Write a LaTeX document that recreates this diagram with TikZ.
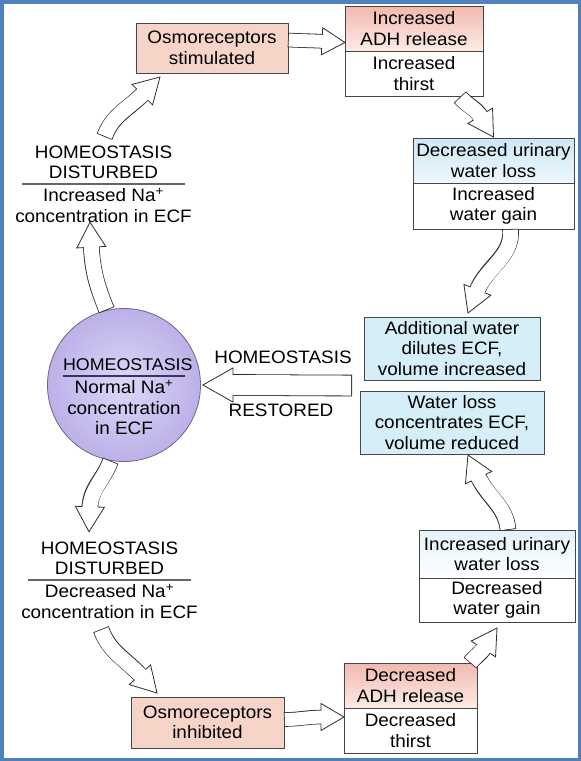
\documentclass[tikz,border=0pt]{standalone}
\usepackage{fontspec}
\setmainfont[FakeStretch=1.05]{Liberation Sans}
\usetikzlibrary{positioning, calc}

\definecolor{salmon}{RGB}{246,212,200}
\definecolor{salmontop}{RGB}{242,184,174}
\definecolor{salmonlow}{RGB}{252,236,230}
\definecolor{skyfill}{RGB}{214,238,248}
\definecolor{skytop}{RGB}{204,232,246}
\definecolor{skylow}{RGB}{238,247,252}
\definecolor{lilac}{RGB}{188,176,232}
\definecolor{lilacin}{RGB}{222,216,248}
\definecolor{ballline}{RGB}{110,100,140}
\definecolor{framecol}{RGB}{79,129,189}
\definecolor{boxline}{RGB}{70,70,70}
\definecolor{rulecol}{RGB}{110,100,95}
\definecolor{ballrule}{RGB}{60,50,90}
\definecolor{arrowline}{RGB}{45,45,45}

\tikzset{
	box/.style={draw=boxline, line width=0.9pt, inner sep=0pt, outer sep=0pt, align=center, minimum height=45pt},
	rose/.style={box, fill=salmon},
	rosebox/.style={box, top color=salmontop, bottom color=salmonlow},
	skybox/.style={box, top color=skytop, bottom color=skylow},
	plainbox/.style={box, fill=white},
	txt/.style={align=center, inner xsep=0pt, inner ysep=5pt, outer sep=0pt},
	sep/.style={draw=rulecol, line width=1.2pt},
	headline/.style={draw=arrowline, line width=0.8pt, fill=white, line join=miter}
}

\newcommand{\hollowarrow}[5][15]{%
	\pgfmathsetmacro{\hl}{#1+9}\pgfmathsetmacro{\hw}{#1/2+7}\pgfmathsetmacro{\ia}{#5+180}
	\coordinate (hb) at ($(#4)+(\ia:\hl)$);
	\draw[line width=#1pt+1.6pt, draw=arrowline] (#2) to[out=#3, in=\ia] (hb);
	\draw[headline, shift={(hb)}, rotate=#5] (-1,-\hw) -- (\hl,0) -- (-1,\hw) -- cycle;
	\draw[line width=#1pt, white, shorten <=0.8pt] (#2) to[out=#3, in=\ia] ($(hb)+(#5:2)$);
}

\begin{document}
\begin{tikzpicture}[x=1pt, y=1pt, font=\fontsize{18}{20.5}\selectfont]
	\useasboundingbox (0,0) rectangle (581,-761);
	\draw[framecol, line width=3.5pt] (1.75,-1.75) rectangle (579.25,-759.25);

	\node[rose, minimum width=152pt, minimum height=50pt] (stim) at (212,-48) {Osmoreceptors\\stimulated};
	\node[rosebox, minimum width=138pt] (adhup) at (414,-28.5) {Increased\\ADH release};
	\node[plainbox, minimum width=138pt, below=0pt of adhup] (adhlo) {Increased\\thirst};
	\node[skybox, minimum width=161pt] (urinup) at (493.5,-160.5) {Decreased urinary\\water loss};
	\node[plainbox, minimum width=161pt, minimum height=46pt, below=0pt of urinup] (urinlo) {Increased\\water gain};

	\node[txt, text width=163pt, anchor=south] (hdup) at (103.5,-184) {HOMEOSTASIS\\DISTURBED};
	\node[txt, inner ysep=4pt, below=0pt of hdup] (naup) {Increased Na\textsuperscript{+}\\concentration in ECF};
	\draw[sep] (hdup.south west) -- (hdup.south east);

	\node[circle, minimum size=153pt, draw=ballline, line width=0.8pt, inner color=lilacin, outer color=lilac] (homeo) at (124,-385) {};
	\node[txt, text width=122pt, anchor=south, font=\fontsize{17}{20.5}\selectfont] (homeotop) at (124,-376) {HOMEOSTASIS};
	\node[txt, inner ysep=4pt, below=0pt of homeotop] (homeobot) {Normal Na\textsuperscript{+}\\concentration\\in ECF};
	\draw[sep, draw=ballrule] (homeotop.south west) -- (homeotop.south east);

	\node[box, fill=skyfill, minimum width=176pt, minimum height=63pt] (dilute) at (452,-348.5) {Additional water\\dilutes ECF,\\volume increased};
	\node[box, fill=skyfill, minimum width=184pt, minimum height=63pt] (concen) at (452,-422.5) {Water loss\\concentrates ECF,\\volume reduced};
	\node[txt] (restA) at (283,-357) {HOMEOSTASIS};
	\node[txt] (restB) at (281,-410) {RESTORED};

	\node[txt, text width=163pt, anchor=south] (hddown) at (109.5,-580) {HOMEOSTASIS\\DISTURBED};
	\node[txt, inner ysep=4pt, below=0pt of hddown] (nadown) {Decreased Na\textsuperscript{+}\\concentration in ECF};
	\draw[sep] (hddown.south west) -- (hddown.south east);

	\node[rose, minimum width=153pt, minimum height=51pt] (inhib) at (207.5,-722.5) {Osmoreceptors\\inhibited};
	\node[rosebox, minimum width=133pt] (decadhup) at (410.5,-685.5) {Decreased\\ADH release};
	\node[plainbox, minimum width=133pt, below=0pt of decadhup] (decadhlo) {Decreased\\thirst};
	\node[skybox, minimum width=156pt, minimum height=48pt, top color=skylow!70!skytop, bottom color=white] (incurup) at (497,-554) {Increased urinary\\water loss};
	\node[plainbox, minimum width=156pt, minimum height=44pt, below=0pt of incurup] (incurlo) {Decreased\\water gain};

	\hollowarrow{$(hdup.north)+(1,4)$}{70}{$(stim.south west)+(24,-4)$}{45}
	\hollowarrow[13]{$(stim.east)+(0,8)$}{-3}{$(adhup.west)+(0,-14)$}{-3}
	\hollowarrow{$(adhlo.south)+(46,-1)$}{-50}{$(urinup.north)+(0,1)$}{-58}
	\hollowarrow{$(urinlo.south)+(17,0)$}{-85}{$(dilute.north)+(16,4)$}{-112}
	\hollowarrow{homeo.103}{112}{$(naup.south)+(-13.5,4)$}{93}
	\hollowarrow{homeo.260}{-110}{$(hddown.north)+(-20.5,5)$}{-92}
	\hollowarrow{$(nadown.south)+(-8.5,-7)$}{-70}{$(inhib.north west)+(26,4)$}{-47}
	\hollowarrow[13]{$(inhib.east)+(0,3)$}{0}{$(decadhup.south west)+(0,-9)$}{0}
	\hollowarrow{$(decadhup.north east)+(-7,0)$}{52}{$(incurlo.south)+(0,-6)$}{57}
	\hollowarrow{$(incurup.north)+(11,0)$}{95}{$(concen.south)+(16,-1)$}{115}
	\hollowarrow[20]{$(dilute.south west)!0.5!(concen.north west)+(-10,0)$}{180}{$(homeo.east)+(2,0)$}{180}
\end{tikzpicture}
\end{document}
